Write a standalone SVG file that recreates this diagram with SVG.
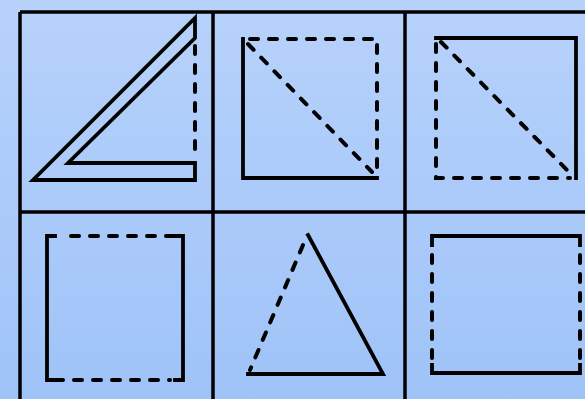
<svg xmlns="http://www.w3.org/2000/svg" width="585" height="399" viewBox="0 0 585 399">
<defs>
<linearGradient id="bg" x1="0" y1="0" x2="0" y2="1">
<stop offset="0" stop-color="#b7d2fb"/>
<stop offset="1" stop-color="#9fc3f8"/>
</linearGradient>
</defs>
<style>
.grid{stroke:#000;stroke-width:3.5;fill:none}
.s{stroke:#000;stroke-width:3.8;fill:none;stroke-linejoin:miter;stroke-linecap:square}
.d{stroke:#000;stroke-width:4;fill:none;stroke-dasharray:8 11;stroke-linecap:round}
</style>
<rect width="585" height="399" fill="url(#bg)"/>
<g id="grid">
<path class="grid" d="M20 12H585M20 212H585M20 12V399M213 12V399M405 12V399"/>
</g>
<g id="cell1">
<path class="s" d="M33 180L195 18V38L68 163H195V180Z"/>
<path class="d" d="M195 46V158"/>
</g>
<g id="cell2">
<path class="s" d="M243 39V178H377"/>
<path class="d" d="M250 39H377V172"/>
<path class="d" d="M248 44L372 172"/>
</g>
<g id="cell3">
<path class="s" d="M436 38H576V178"/>
<path class="d" d="M436 44V178H570"/>
<path class="d" d="M441 42L571 174"/>
</g>
<g id="cell4">
<path class="s" d="M55 236H47V380H55M175 236H183V380H175"/>
<path class="d" d="M71 236H175M55 380H170"/>
</g>
<g id="cell5">
<path class="s" d="M308 235L383 374H248"/>
<path class="d" d="M303 245L250 370"/>
</g>
<g id="cell6">
<path class="s" d="M432 245V236H580V245M432 365V373H580V365"/>
<path class="d" d="M432 255V360M580 255V360"/>
</g>
</svg>
